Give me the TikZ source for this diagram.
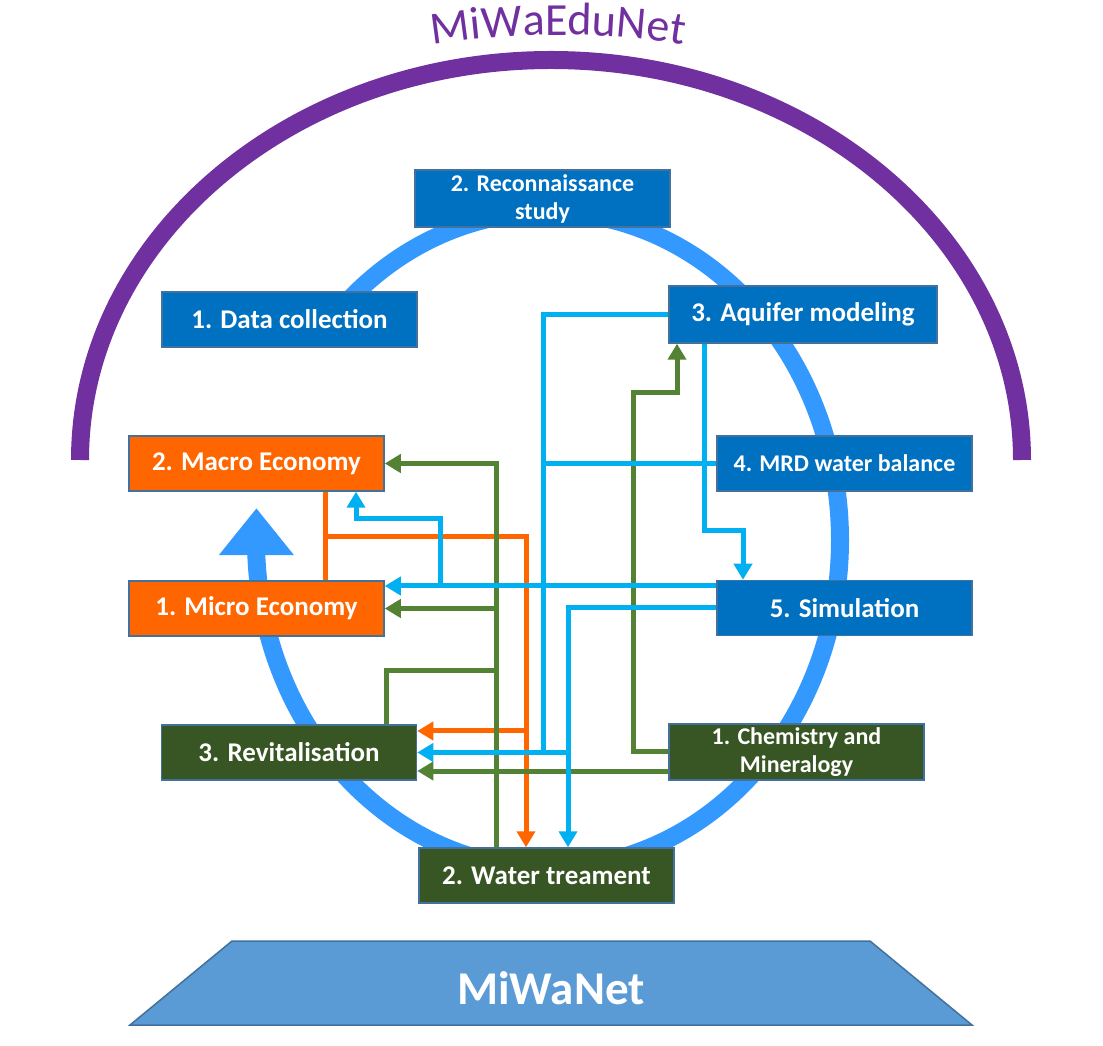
\documentclass[tikz,border=0pt]{standalone}
\usepackage{fontspec}
\setmainfont{Carlito}
\usetikzlibrary{arrows.meta,calc,decorations.text}
\definecolor{stageBlue}{HTML}{0070C0}
\definecolor{stageOrange}{HTML}{FF6600}
\definecolor{stageGreen}{HTML}{375623}
\definecolor{boxLine}{HTML}{41719C}
\definecolor{cyLine}{HTML}{00B0F0}
\definecolor{grLine}{HTML}{548235}
\definecolor{orLine}{HTML}{FF6600}
\definecolor{ringC}{HTML}{3399FF}
\definecolor{eduP}{HTML}{7030A0}
\definecolor{netFill}{HTML}{5B9BD5}
\newcommand{\stagefont}{\fontsize{27}{30}\selectfont\bfseries}
\newcommand{\smallstagefont}{\fontsize{24}{28}\selectfont\bfseries}
\tikzset{>={Triangle[length=16pt,width=18pt]},
  stage/.style={draw=boxLine,line width=1.5pt,minimum width=255pt,minimum height=55pt,
    inner sep=0pt,text=white,align=center,font=\stagefont},
  bstage/.style={stage,fill=stageBlue},
  ostage/.style={stage,fill=stageOrange},
  gstage/.style={stage,fill=stageGreen},
  cyLn/.style={cyLine,line width=5pt},
  grLn/.style={grLine,line width=5pt},
  orLn/.style={orLine,line width=5pt},
  titlearc/.style={decorate,decoration={text along path,text align=center,text color=#1,
    text={|\fontsize{46}{50}\selectfont|MiWaEduNet}}}}
\begin{document}
\begin{tikzpicture}[x=1pt,y=1pt]
\fill[white] (0,0) rectangle (1103,1045);
\useasboundingbox (0,0) rectangle (1103,1045);
% outer arc and its title
\draw[eduP,line width=18pt] (80,585) arc[start angle=180,end angle=0,x radius=471,y radius=400];
\path[titlearc=eduP] (558,210) ++(105:800) arc[start angle=105,end angle=75,radius=800];
% cycle
\draw[ringC,line width=18pt,-{Triangle[width=72pt,length=47pt]}] (548,505) ++(140:292 and 328)
  arc[start angle=140,end angle=-177,x radius=292,y radius=328] -- ++(0,49);
% base
\draw[boxLine,line width=1.5pt,fill=netFill] (130,20) -- (232,104) -- (870,104) -- (972,20) -- cycle;
\node[text=white,font=\fontsize{47}{50}\selectfont\bfseries] (net) at (551,57) {MiWaNet};
% stages
\node[bstage] (dat) at (289.5,725.5) {1. Data collection};
\node[bstage,font=\smallstagefont,minimum height=57pt] (rec) at (542.5,846.5) {2. Reconnaissance\\study};
\node[bstage,minimum width=268pt,minimum height=57pt] (aqu) at (803,730.5) {3. Aquifer modeling};
\node[bstage,font=\smallstagefont] (mrd) at (844.5,581.5) {4. MRD water balance};
\node[bstage] (sim) at (844.5,437) {5. Simulation};
\node[ostage] (mac) at (256.5,581.5) {2. Macro Economy};
\node[ostage] (mic) at (256.5,436.5) {1. Micro Economy};
\node[gstage] (rev) at (289,292.5) {3. Revitalisation};
\node[gstage,font=\smallstagefont,minimum height=56pt] (chm) at (796.5,293) {1. Chemistry and\\Mineralogy};
\node[gstage] (wat) at (546.5,169.5) {2. Water treament};
% orange links
\draw[orLn] ($(mac.south)+(68.5,0)$) -- ($(mic.north)+(68.5,0)$);
\draw[orLn,->] (325,508) -| ($(wat.north)+(-20.5,0)$);
\draw[orLn,->] (526,314) -- ($(rev.east)+(0,21.5)$);
% green links
\draw[grLn,->] ($(wat.north)+(-50.5,0)$) |- (mac.east);
\draw[grLn,->] (496,436.5) -- (mic.east);
\draw[grLn] ($(rev.north)+(97,0)$) |- (496,374);
\draw[grLn,->] (chm.west) -| (633,652) -| ($(aqu.south)+(-126,0)$);
\draw[grLn,->] ($(chm.west)+(0,-19)$) -- ($(rev.east)+(0,-18.5)$);
% blue links
\draw[cyLn,->] (aqu.west) -| (543,292.5) -- (rev.east);
\draw[cyLn] (mrd.west) -- (543,581.5);
\draw[cyLn,->] (sim.west) -| ($(wat.north)+(21.5,0)$);
\draw[cyLn] (568,292.5) -- (543,292.5);
\draw[cyLn,->] ($(aqu.south)+(-99,0)$) -- (704,514) -| ($(sim.north)+(-101.5,0)$);
\draw[cyLn,->] ($(sim.west)+(0,22)$) -- ($(mic.east)+(0,22.5)$);
\draw[cyLn,->] (440,459) |- (356,526) -- ($(mac.south)+(99.5,0)$);
\end{tikzpicture}
\end{document}
